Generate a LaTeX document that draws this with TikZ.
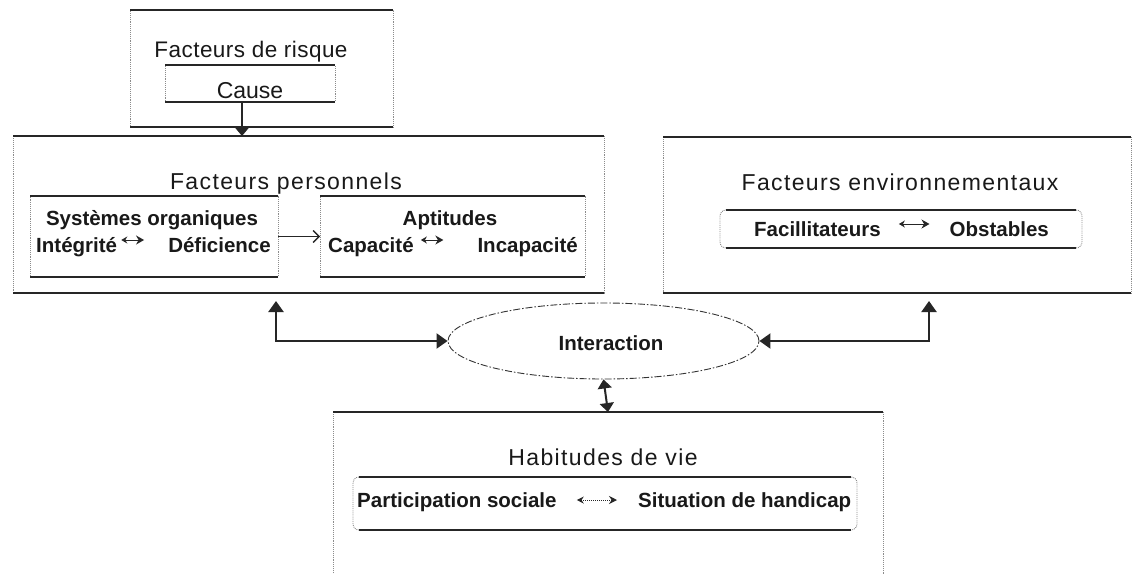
\documentclass[tikz,border=0pt]{standalone}
\usepackage{fontspec}
\setmainfont{Liberation Sans}
\newfontfamily\labfont[LetterSpace=6]{Liberation Sans}
\newfontfamily\riskfont[LetterSpace=2]{Liberation Sans}
\usetikzlibrary{arrows.meta,shapes.geometric}
\newcommand\tbedges[3]{\draw[#3] ([xshift=#2]#1.north west) -- ([xshift=-#2]#1.north east) ([xshift=#2]#1.south west) -- ([xshift=-#2]#1.south east);}
\begin{document}
\begin{tikzpicture}[x=1pt,y=-1pt,
  box/.style={draw=black!45, densely dotted, line width=0.9pt, inner sep=0pt, outer sep=0pt},
  rbox/.style={box, rounded corners=6pt},
  tb/.style={line width=1.6pt, draw=black!85},
  tbthin/.style={line width=1.1pt, draw=black!85},
  big/.style={font=\labfont\fontsize{23}{27}\selectfont, inner sep=0pt, text=black!90},
  riskst/.style={font=\riskfont\fontsize{22.5}{27}\selectfont, inner sep=0pt, text=black!90},
  plain/.style={font=\fontsize{23}{27}\selectfont, inner sep=0pt, text=black!90},
  bold/.style={font=\bfseries\fontsize{20.5}{24}\selectfont, inner sep=0pt, text=black!90},
  conn/.style={line width=2.2pt, draw=black!85, {Triangle[width=15pt,length=11pt]}-{Triangle[width=15pt,length=11pt]}},
  connsmall/.style={line width=2pt, draw=black!85, {Triangle[width=14pt,length=9pt]}-{Triangle[width=14pt,length=9pt]}},
  tiny/.style={line width=1pt, draw=black!85, {Stealth[length=6pt,width=7pt]}-{Stealth[length=8pt,width=9pt]}}
]
\useasboundingbox (0,0) rectangle (1139,573);
\fill[white] (0,0) rectangle (1139,573);
\clip (0,0) rectangle (1139,573);

% boxes
\node[box, minimum width=263pt, minimum height=117pt] (risk) at (261.5,68.5) {};
\node[box, minimum width=170pt, minimum height=37pt] (cause) at (250,83.5) {};
\node[box, minimum width=591pt, minimum height=157pt] (fp) at (308.5,214.5) {};
\node[box, minimum width=248pt, minimum height=81pt] (sys) at (154,236.5) {};
\node[box, minimum width=265pt, minimum height=81pt] (apt) at (452.5,236.5) {};
\node[box, minimum width=468pt, minimum height=156pt] (fe) at (897,215) {};
\node[rbox, minimum width=362pt, minimum height=38pt] (fac) at (901,229) {};
\node[box, minimum width=550pt, minimum height=188pt] (hab) at (608,506) {};
\node[rbox, minimum width=504pt, minimum height=53pt] (part) at (605,503.5) {};
\node[ellipse, draw=black!80, dash pattern=on 7pt off 2pt on 1.5pt off 2pt, line width=0.9pt,
      minimum width=311pt, minimum height=76pt, inner sep=0pt] (inter) at (603.5,341) {};

\tbedges{risk}{0pt}{tb}
\tbedges{cause}{0pt}{tbthin}
\tbedges{fp}{0pt}{tb}
\tbedges{sys}{0pt}{tbthin}
\tbedges{apt}{0pt}{tbthin}
\tbedges{fe}{0pt}{tb}
\tbedges{fac}{6pt}{tbthin}
\tbedges{hab}{0pt}{tb}
\tbedges{part}{6pt}{tbthin}

% titles
\node[riskst, anchor=base] (riskT) at (251,57) {Facteurs de risque};
\node[plain, anchor=base] (causeT) at (250,98) {Cause};
\node[big, anchor=base] (fpT) at (286,189) {Facteurs personnels};
\node[big, anchor=base] (feT) at (900,190) {Facteurs environnementaux};
\node[big, anchor=base] (habT) at (603,465) {Habitudes de vie};

% inner texts
\node[bold, anchor=base] (sysT) at (152,225) {Systèmes organiques};
\node[bold, anchor=base west] (integ) at (36,252) {Intégrité};
\node[bold, anchor=base east] (defic) at (271,252) {Déficience};
\node[bold, anchor=base] (aptT) at (450,225) {Aptitudes};
\node[bold, anchor=base west] (capa) at (328,252) {Capacité};
\node[bold, anchor=base east] (incap) at (578,252) {Incapacité};
\node[bold, anchor=base west] (facil) at (754,236) {Facillitateurs};
\node[bold, anchor=base east] (obst) at (1049,236) {Obstables};
\node[bold, anchor=base west] (partT) at (357,507) {Participation sociale};
\node[bold, anchor=base west] (situ) at (638,507) {Situation de handicap};
\node[bold, anchor=base] (interT) at (611,350) {Interaction};

% small double arrows
\draw[tiny] ([xshift=4pt,yshift=12pt]integ.base east) -- ([xshift=-24pt,yshift=12pt]defic.base west);
\draw[tiny] ([xshift=7pt,yshift=12pt]capa.base east) -- ([xshift=-34pt,yshift=12pt]incap.base west);
\draw[tiny] ([xshift=18pt,yshift=12pt]facil.base east) -- ([xshift=-20pt,yshift=12pt]obst.base west);
\draw[line width=1pt, draw=black!85, densely dotted, {Stealth[length=7pt,width=7pt]}-{Stealth[length=8pt,width=8pt]}]
  ([xshift=20pt,yshift=7pt]partT.base east) -- ([xshift=-21pt,yshift=7pt]situ.base west);

% connectors
\draw[line width=1.5pt, draw=black!85, -{Triangle[width=13pt,length=8pt]}]
  ([xshift=-8pt]cause.south) -- ([xshift=-8pt]cause.south |- fp.north);
\draw[line width=1.3pt, draw=black!85, -{Straight Barb[length=6pt,width=12pt]}] (sys.east) -- (apt.west);

\coordinate (fpL) at (276,301);
\coordinate (feR) at (929,301);
\draw[conn] (fpL) |- (inter.west);
\draw[conn] (feR) |- (inter.east);
\draw[connsmall] (inter.south) -- (hab.north);
\end{tikzpicture}
\end{document}
